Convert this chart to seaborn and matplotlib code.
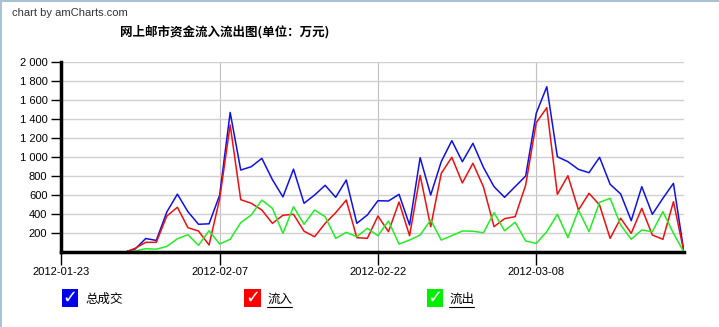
import numpy as np
import pandas as pd
import matplotlib
matplotlib.use('Agg')
import matplotlib.pyplot as plt
import seaborn as sns
from matplotlib.ticker import FuncFormatter
from matplotlib.patches import Rectangle
from matplotlib.lines import Line2D

# ---------------- data ----------------
start_date = '2012-01-23'
n_days = 60
series_names = ['总成交', '流入', '流出']
tick_labels = ['2012-01-23', '2012-02-07', '2012-02-22', '2012-03-08']
y_ticks = [200, 400, 600, 800, 1000, 1200, 1400, 1600, 1800, 2000]

total = [0, 0, 0, 0, 0, 0, 0, 35, 145, 125,
         425, 612, 427, 295, 300, 600, 1472, 866, 901, 989,
         765, 583, 875, 516, 603, 705, 579, 761, 305, 393,
         543, 540, 610, 287, 996, 603, 954, 1175, 954, 1147,
         893, 691, 579, 691, 803, 1463, 1743, 1006, 954, 873,
         838, 1000, 716, 614, 333, 691, 400, 568, 726, 0]
inflow = [0, 0, 0, 0, 0, 0, 0, 42, 105, 105,
          382, 474, 259, 224, 77, 560, 1340, 554, 516, 445,
          305, 390, 400, 222, 164, 305, 417, 550, 154, 147,
          382, 217, 529, 175, 810, 270, 831, 1000, 730, 937,
          688, 270, 354, 375, 708, 1364, 1522, 610, 806, 445,
          621, 498, 147, 358, 200, 463, 182, 137, 533, 0]
outflow = [0, 0, 0, 0, 0, 0, 0, 14, 38, 33,
           62, 142, 185, 74, 227, 87, 137, 312, 393, 550,
           463, 200, 480, 295, 445, 375, 147, 210, 164, 253,
           175, 329, 87, 129, 182, 340, 129, 175, 224, 222,
           206, 417, 227, 316, 119, 94, 217, 400, 154, 445,
           217, 526, 568, 287, 137, 235, 217, 428, 200, 0]

colors = ['#1010e8', '#ee1010', '#22ee22']
legend_box_colors = ['#0000ee', '#ff0000', '#00ee00']

dates = pd.date_range(start_date, periods=n_days, freq='D')
df = pd.DataFrame({
    'date': list(dates) * 3,
    'value': total + inflow + outflow,
    'series': [s for s in series_names for _ in range(n_days)],
})

# ---------------- style ----------------
sns.set_theme(style='white')
plt.rcParams['font.family'] = ['Liberation Sans', 'Noto Sans CJK SC', 'DejaVu Sans']

W, H = 719, 327
fig = plt.figure(figsize=(W / 100, H / 100), dpi=100)
fig.patch.set_facecolor('white')

left_px, right_px, top_px, bottom_px = 61.3, 684.0, 62.3, 252.3
ax = fig.add_axes([left_px / W, 1 - bottom_px / H,
                   (right_px - left_px) / W, (bottom_px - top_px) / H])
ax.set_facecolor('white')

sns.lineplot(data=df, x='date', y='value', hue='series',
             hue_order=series_names,
             palette=dict(zip(series_names, colors)),
             legend=False, linewidth=1.1, ax=ax)

ax.set_xlim(dates[0], dates[-1])
ax.set_ylim(0, 2000)
ax.set_xlabel('')
ax.set_ylabel('')

ax.set_yticks(y_ticks)
ax.yaxis.set_major_formatter(FuncFormatter(lambda v, p: f'{int(v):,}'.replace(',', ' ')))
ax.set_xticks(pd.to_datetime(tick_labels))
ax.set_xticklabels(tick_labels)

ax.tick_params(axis='y', direction='out', length=7, width=1, color='black',
               labelsize=8, pad=3, left=True, labelcolor='black')
ax.tick_params(axis='x', direction='out', length=9, width=1, color='black',
               labelsize=8, pad=1.5, bottom=True, labelcolor='black')

ax.grid(axis='y', color='#d0d0d0', linewidth=1)
ax.grid(axis='x', color='#c0c0c0', linewidth=0.8)
ax.set_axisbelow(True)

for s in ['top', 'right']:
    ax.spines[s].set_visible(False)
for s in ['left', 'bottom']:
    ax.spines[s].set_visible(True)
    ax.spines[s].set_color('black')
    ax.spines[s].set_linewidth(2.5)

# ---------------- texts ----------------
fig.text(12 / W, 1 - 13 / H, 'chart by amCharts.com', fontsize=8,
         family='Liberation Sans', color='#333333', va='center', ha='left')
fig.text(225 / W, 1 - 32 / H, '网上邮市资金流入流出图(单位：万元)', fontsize=9,
         fontweight='bold', family=['Noto Sans CJK SC', 'DejaVu Sans'],
         color='black', va='center', ha='center')

# ---------------- legend ----------------
box_x = [61.5, 244.5, 427.0]
text_x = [85.0, 267.0, 449.0]
underline = [False, True, True]
for i, name in enumerate(series_names):
    fig.add_artist(Rectangle((box_x[i] / W, 1 - 307 / H), 16 / W, 18 / H,
                             transform=fig.transFigure,
                             facecolor=legend_box_colors[i], edgecolor='none'))
    fig.text((box_x[i] + 8) / W, 1 - 298 / H, '✓', fontsize=13, fontweight='bold',
             family='DejaVu Sans', color='white', ha='center', va='center')
    t = fig.text(text_x[i] / W, 1 - 299 / H, name, fontsize=9,
                 family=['Noto Sans CJK SC', 'DejaVu Sans'], color='black',
                 ha='left', va='center')
    if underline[i]:
        wpx = 12.5 * len(name)
        fig.add_artist(Line2D([text_x[i] / W, (text_x[i] + wpx) / W],
                              [1 - 307 / H, 1 - 307 / H], transform=fig.transFigure,
                              color='black', linewidth=0.8))

# border lines of the chart box
fig.add_artist(Line2D([0.7 / W, 0.7 / W], [0, 1], transform=fig.transFigure,
                      color='#a9c3d3', linewidth=1.5))
fig.add_artist(Line2D([0, 1], [1 - 0.7 / H, 1 - 0.7 / H], transform=fig.transFigure,
                      color='#a9c3d3', linewidth=1.5))

fig.savefig('out.png', dpi=100, facecolor='white')
